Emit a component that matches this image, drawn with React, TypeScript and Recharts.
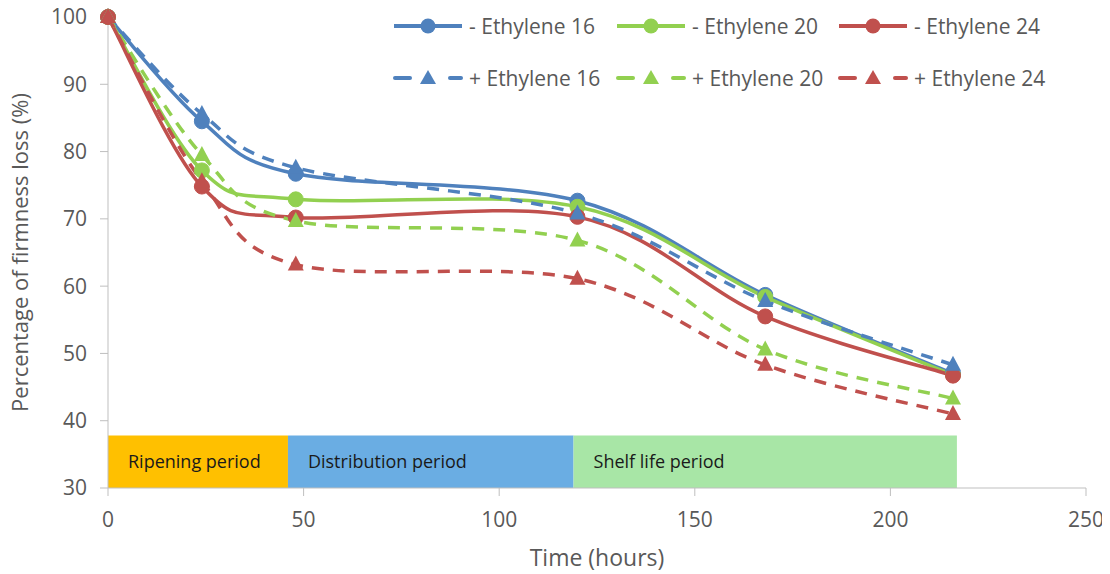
import { LineChart, Line, XAxis, YAxis, ReferenceArea, Label } from 'recharts';

// time points (hours) and firmness loss values
const hours = [0, 24, 48, 120, 168, 216];
const noEth16 = [100, 84.5, 76.7, 72.7, 58.7, 47.0];
const noEth20 = [100, 77.2, 72.9, 71.8, 58.4, 46.8];
const noEth24 = [100, 74.8, 70.2, 70.3, 55.5, 46.7];
const plusEth16 = [100, 85.6, 77.6, 70.8, 57.8, 48.3];
const plusEth20 = [100, 79.5, 69.7, 66.8, 50.6, 43.3];
const plusEth24 = [100, 75.6, 63.2, 61.1, 48.3, 41.0];

const xTicks = [0, 50, 100, 150, 200, 250];
const yTicks = [30, 40, 50, 60, 70, 80, 90, 100];

const periodNames = ['Ripening period', 'Distribution period', 'Shelf life period'];
const periodStarts = [0, 46, 119];
const periodEnds = [46, 119, 217];
const periodTop = 37.8;

const BLUE = '#4f81bd';
const GREEN = '#92d050';
const RED = '#c0504d';
const PERIOD_COLORS = ['#ffc000', '#6aade3', '#a8e6a6'];
const FONT = '"Open Sans", sans-serif';

const data = hours.map((h, i) => ({
  h,
  n16: noEth16[i],
  n20: noEth20[i],
  n24: noEth24[i],
  p16: plusEth16[i],
  p20: plusEth20[i],
  p24: plusEth24[i],
}));

const series = [
  { key: 'n16', name: '- Ethylene 16', color: BLUE, dashed: false },
  { key: 'n20', name: '- Ethylene 20', color: GREEN, dashed: false },
  { key: 'n24', name: '- Ethylene 24', color: RED, dashed: false },
  { key: 'p16', name: '+ Ethylene 16', color: BLUE, dashed: true },
  { key: 'p20', name: '+ Ethylene 20', color: GREEN, dashed: true },
  { key: 'p24', name: '+ Ethylene 24', color: RED, dashed: true },
];

// spreadsheet style smoothed line (bezier through every point)
const smoothCurve = (context: any) => {
  let pts: number[][] = [];
  return {
    areaStart() {},
    areaEnd() {},
    lineStart() {
      pts = [];
    },
    point(x: number, y: number) {
      pts.push([+x, +y]);
    },
    lineEnd() {
      if (!pts.length) return;
      context.moveTo(pts[0][0], pts[0][1]);
      for (let i = 0; i < pts.length - 1; i++) {
        const p0 = pts[i - 1] || pts[i];
        const p1 = pts[i];
        const p2 = pts[i + 1];
        const p3 = pts[i + 2] || p2;
        context.bezierCurveTo(
          p1[0] + (p2[0] - p0[0]) / 6,
          p1[1] + (p2[1] - p0[1]) / 6,
          p2[0] - (p3[0] - p1[0]) / 6,
          p2[1] - (p3[1] - p1[1]) / 6,
          p2[0],
          p2[1]
        );
      }
    },
  };
};

const makeTriangle = (color: string) => (props: any) => {
  const { cx, cy, index } = props;
  if (cx == null || cy == null) return <g key={`t-${index}`} />;
  return (
    <polygon
      key={`t-${index}`}
      points={`${cx},${cy - 9} ${cx - 8},${cy + 6} ${cx + 8},${cy + 6}`}
      fill={color}
    />
  );
};

const LegendIcon = ({ color, dashed }: { color: string; dashed: boolean }) => (
  <svg width={70} height={20} style={{ display: 'block' }}>
    {dashed ? (
      <>
        <line x1={2} y1={10} x2={17} y2={10} stroke={color} strokeWidth={4} strokeLinecap="round" />
        <polygon points="35,2 27,16 43,16" fill={color} />
        <line x1={57} y1={10} x2={68} y2={10} stroke={color} strokeWidth={4} strokeLinecap="round" />
      </>
    ) : (
      <>
        <line x1={1} y1={10} x2={69} y2={10} stroke={color} strokeWidth={4} />
        <circle cx={35} cy={10} r={7.5} fill={color} />
      </>
    )}
  </svg>
);

const legendCols = [393, 616, 838];

const App = () => {
  return (
    <div style={{ position: 'relative', width: 1110, height: 574, margin: '-8px 0 0 -8px', fontFamily: FONT }}>
      <LineChart width={1110} height={574} data={data} margin={{ top: 17, right: 24, left: 0, bottom: 0 }}>
        <XAxis
          dataKey="h"
          type="number"
          domain={[0, 250]}
          ticks={xTicks}
          height={86}
          stroke="#bfbfbf"
          tick={{ fill: '#595959', fontSize: 21, fontFamily: FONT }}
          tickSize={8}
          tickMargin={16}
        >
          <Label value="Time (hours)" position="insideBottom" offset={8} fill="#595959" fontSize={23} fontFamily={FONT} />
        </XAxis>
        <YAxis
          type="number"
          domain={[30, 100]}
          ticks={yTicks}
          width={108}
          stroke="#bfbfbf"
          tick={{ fill: '#595959', fontSize: 21, fontFamily: FONT }}
          tickSize={8}
          tickMargin={13}
        >
          <Label
            value="Percentage of firmness loss (%)"
            angle={-90}
            position="insideLeft"
            offset={20}
            style={{ textAnchor: 'middle' }}
            fill="#595959"
            fontSize={22}
            fontFamily={FONT}
          />
        </YAxis>
        {periodNames.map((name, i) => (
          <ReferenceArea
            key={name}
            x1={periodStarts[i]}
            x2={periodEnds[i]}
            y1={30}
            y2={periodTop}
            fill={PERIOD_COLORS[i]}
            fillOpacity={1}
            stroke="none"
          >
            <Label value={name} position="insideLeft" offset={20} fill="#1a1a1a" fontSize={18} fontFamily={FONT} />
          </ReferenceArea>
        ))}
        {series.map((s) => (
          <Line
            key={s.key}
            dataKey={s.key}
            name={s.name}
            type={smoothCurve as any}
            stroke={s.color}
            strokeWidth={3.5}
            strokeDasharray={s.dashed ? '12 9' : undefined}
            dot={s.dashed ? makeTriangle(s.color) : { r: 7.5, fill: s.color, stroke: s.color, strokeWidth: 1 }}
            activeDot={false}
            isAnimationActive={false}
          />
        ))}
      </LineChart>
      {series.map((s, i) => (
        <div
          key={s.key}
          style={{
            position: 'absolute',
            left: legendCols[i % 3],
            top: i < 3 ? 11 : 63,
            height: 29,
            display: 'flex',
            alignItems: 'center',
            gap: 6,
            color: '#595959',
            fontSize: 21,
            whiteSpace: 'nowrap',
          }}
        >
          <LegendIcon color={s.color} dashed={s.dashed} />
          <span>{s.name}</span>
        </div>
      ))}
    </div>
  );
};

export default App;
